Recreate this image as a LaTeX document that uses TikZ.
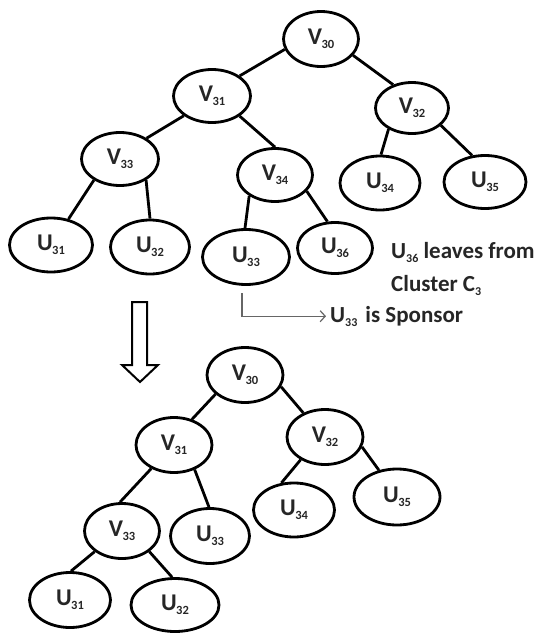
\documentclass[tikz,border=0pt]{standalone}
\usepackage{fontspec}
\setmainfont{Carlito}
\usetikzlibrary{shapes.geometric,arrows.meta}
% node label: letter with a lowered small index
\newcommand{\lbl}[2]{\bfseries #1\kern-0.5pt\raisebox{-4.5pt}{\fontsize{12.5}{12.5}\selectfont #2}}
\newcommand{\idx}[1]{\raisebox{-4.5pt}{\fontsize{12}{12}\selectfont #1}}
\begin{document}
\begin{tikzpicture}[x=1pt,y=-1pt,
  tn/.style={ellipse,draw,line width=2.8pt,inner sep=0pt,
    font=\fontsize{24}{24}\selectfont,text=black!85},
  edge/.style={line width=2.8pt},
  note/.style={font=\fontsize{23}{23}\selectfont\bfseries,text=black!85,inner sep=0pt},
  pointer/.style={draw=black!60,line width=1.2pt,-{Straight Barb[length=5pt,width=11pt]}}]
\useasboundingbox (0,0) rectangle (539,635);

% ---------- tree before the member leaves ----------
\node[tn,minimum width=75pt,minimum height=55pt] (a30) at (321,39) {\lbl{V}{30}};
\node[tn,minimum width=77pt,minimum height=53pt] (a31) at (212,96) {\lbl{V}{31}};
\node[tn,minimum width=73pt,minimum height=51pt] (a32) at (412,108) {\lbl{V}{32}};
\node[tn,minimum width=77pt,minimum height=53pt] (a33) at (120,159) {\lbl{V}{33}};
\node[tn,minimum width=75pt,minimum height=53pt] (a34) at (275,175) {\lbl{V}{34}};
\node[tn,minimum width=80pt,minimum height=54pt] (u34) at (380,183) {\lbl{U}{34}};
\node[tn,minimum width=82pt,minimum height=53pt] (u35) at (485,182) {\lbl{U}{35}};
\node[tn,minimum width=83pt,minimum height=54pt] (u31) at (51,245) {\lbl{U}{31}};
\node[tn,minimum width=79pt,minimum height=54pt] (u32) at (150,247) {\lbl{U}{32}};
\node[tn,minimum width=87pt,minimum height=55pt] (u33) at (246,257) {\lbl{U}{33}};
\node[tn,minimum width=75pt,minimum height=51pt] (u36) at (335,248) {\lbl{U}{36}};

\draw[edge] (a30.196) -- (a31.36);
\draw[edge] (a30.333) -- (a32.129);
\draw[edge] (a31.215) -- (a33.38);
\draw[edge] (a31.324) -- (a34.90);
\draw[edge] (a32.222) -- (u34.88);
\draw[edge] (a32.329) -- (u35.116);
\draw[edge] (a33.219) -- (u31.56);
\draw[edge] (a33.321) -- (u32.90);
\draw[edge] (a34.219) -- (u33.92);
\draw[edge] (a34.333) -- (u36.106);

\node[note,anchor=base west] (leave1) at (391,258) {U\idx{36} leaves from};
\node[note,anchor=base west] (leave2) at (391,291) {Cluster C\idx{3}};

\coordinate (spstart) at (242,293);
\node[note,anchor=base west] (sponsor) at (330,322) {U\idx{33}\hspace{8pt}is Sponsor};
\draw[pointer] (spstart) |- ([xshift=-4pt]sponsor.west);

% ---------- hollow transition arrow ----------
\draw[line width=2pt,fill=white,line join=miter]
  (132,302) -- (147,302) -- (147,365) -- (158,365) -- (140,382)
  -- (122,365) -- (132,365) -- cycle;

% ---------- tree after the rekeying ----------
\node[tn,minimum width=76pt,minimum height=55pt] (b30) at (245,375) {\lbl{V}{30}};
\node[tn,minimum width=76pt,minimum height=55pt] (b31) at (174,445) {\lbl{V}{31}};
\node[tn,minimum width=76pt,minimum height=55pt] (b32) at (325,437) {\lbl{V}{32}};
\node[tn,minimum width=75pt,minimum height=55pt] (b33) at (122,531) {\lbl{V}{33}};
\node[tn,minimum width=79pt,minimum height=55pt] (c33) at (210,536) {\lbl{U}{33}};
\node[tn,minimum width=81pt,minimum height=54pt] (c34) at (294,510) {\lbl{U}{34}};
\node[tn,minimum width=86pt,minimum height=56pt] (c35) at (397,497) {\lbl{U}{35}};
\node[tn,minimum width=81pt,minimum height=55pt] (c31) at (70,600) {\lbl{U}{31}};
\node[tn,minimum width=88pt,minimum height=53pt] (c32) at (175,605) {\lbl{U}{32}};

\draw[edge] (b30.213) -- (b31.55);
\draw[edge] (b30.342) -- (b32.132);
\draw[edge] (b31.226) -- (b33.94);
\draw[edge] (b31.310) -- (c33.92);
\draw[edge] (b32.223) -- (c34.115);
\draw[edge] (b32.345) -- (c35.124);
\draw[edge] (b33.217) -- (c31.88);
\draw[edge] (b33.323) -- (c32.96);
\end{tikzpicture}
\end{document}
